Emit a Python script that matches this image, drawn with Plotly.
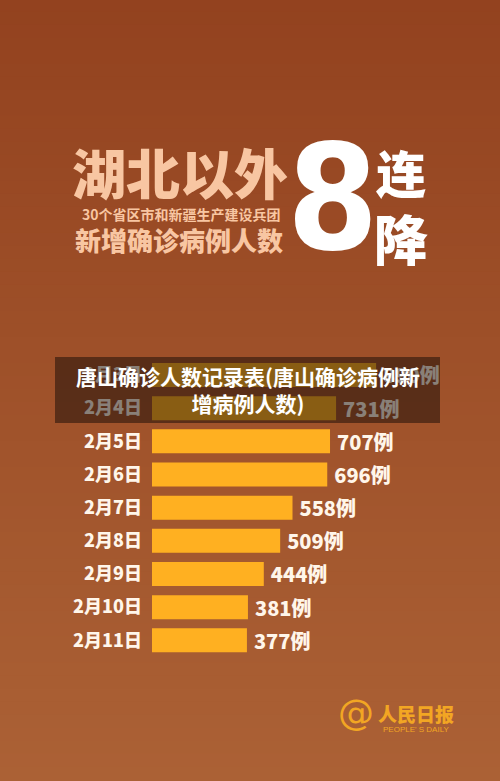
import plotly.graph_objects as go

# ---- data ----
dates = ["2月3日", "2月4日", "2月5日", "2月6日", "2月7日", "2月8日", "2月9日", "2月10日", "2月11日"]
cases = [890, 731, 707, 696, 558, 509, 444, 381, 377]
title_main = "湖北以外"
title_sub = "30个省区市和新疆生产建设兵团"
title_sub2 = "新增确诊病例人数"
big_num = "8"
side_chars = ["连", "降"]
caption = "唐山确诊人数记录表(唐山确诊病例新<br>增病例人数)"

W, H = 500, 781
CJK = "Noto Sans CJK SC"

def px(xp):
    return xp / W

def py(yp):
    return 1 - yp / H

fig = go.Figure()

fig.add_trace(go.Bar(
    y=dates, x=cases, orientation="h",
    marker=dict(color="#ffb021", line=dict(width=0)),
    texttemplate="\u2009%{x}例", textposition="outside", constraintext="none",
    outsidetextfont=dict(family=CJK, size=20, color="#fff6ea", weight=900),
    cliponaxis=False, hoverinfo="skip",
))

# background gradient (style only)
shapes = []
top = (0x93, 0x42, 0x1f)
bot = (0xab, 0x61, 0x35)
n = 60
for i in range(n):
    t = i / (n - 1)
    c = tuple(int(round(top[k] + (bot[k] - top[k]) * t)) for k in range(3))
    shapes.append(dict(type="rect", xref="paper", yref="paper",
                       x0=0, x1=1, y0=1 - (i + 1) / n, y1=1 - i / n + 0.002,
                       fillcolor="rgb(%d,%d,%d)" % c, line=dict(width=0), layer="below"))
# dark caption band
shapes.append(dict(type="rect", xref="paper", yref="paper",
                   x0=px(55), x1=px(440), y0=py(423), y1=py(357),
                   fillcolor="rgba(20,10,5,0.5)", line=dict(width=0), layer="above"))

annotations = [
    dict(text=title_main, x=px(180), y=py(171), font=dict(family=CJK, size=54, color="#f8c6a2", weight=900)),
    dict(text=title_sub, x=px(181), y=py(214), font=dict(family=CJK, size=14, color="#f8c6a2", weight="bold")),
    dict(text=title_sub2, x=px(179), y=py(240), font=dict(family=CJK, size=26, color="#f8c6a2", weight=900)),
    dict(text=big_num, x=px(332), y=py(198), font=dict(family="Liberation Sans Narrow, DejaVu Sans Condensed, Roboto", size=146, color="#ffffff", weight="bold")),
    dict(text=side_chars[0], x=px(401), y=py(171), font=dict(family=CJK, size=50, color="#ffffff", weight=900)),
    dict(text=side_chars[1], x=px(401), y=py(238), font=dict(family=CJK, size=54, color="#ffffff", weight=900)),
    dict(text=caption, x=px(248), y=py(389), font=dict(family=CJK, size=21, color="#ffffff", weight="bold")),
    dict(text="@", x=px(356), y=py(712), font=dict(family="DejaVu Sans", size=36, color="#f2a623")),
    dict(text="人民日报", x=px(416), y=py(713), font=dict(family=CJK, size=19, color="#f2a623", weight=900)),
    dict(text="PEOPLE' S DAILY", x=px(416), y=py(729), font=dict(family="Liberation Sans", size=8, color="#f2a623")),
]
for a in annotations:
    a.update(xref="paper", yref="paper", showarrow=False, xanchor="center", yanchor="middle")

fig.update_layout(
    width=W, height=H,
    margin=dict(l=0, r=0, t=0, b=0),
    paper_bgcolor="#9e5028", plot_bgcolor="rgba(0,0,0,0)",
    showlegend=False, bargap=0.275,
    shapes=shapes, annotations=annotations,
    xaxis=dict(domain=[px(152), 1], range=[0, 348 / 0.2518], showgrid=False, zeroline=False,
               showticklabels=False, showline=False, fixedrange=True),
    yaxis=dict(domain=[py(656.9), py(358.4)], autorange="reversed", showgrid=False, zeroline=False,
               showline=False, ticks="", ticklabelstandoff=9, fixedrange=True,
               tickfont=dict(family=CJK, size=18, color="#fff6ea", weight=900)),
)

fig.write_html("out.html", config={"displayModeBar": False},
               post_script="document.body.style.margin='0';document.body.style.background='#9e5028';")
